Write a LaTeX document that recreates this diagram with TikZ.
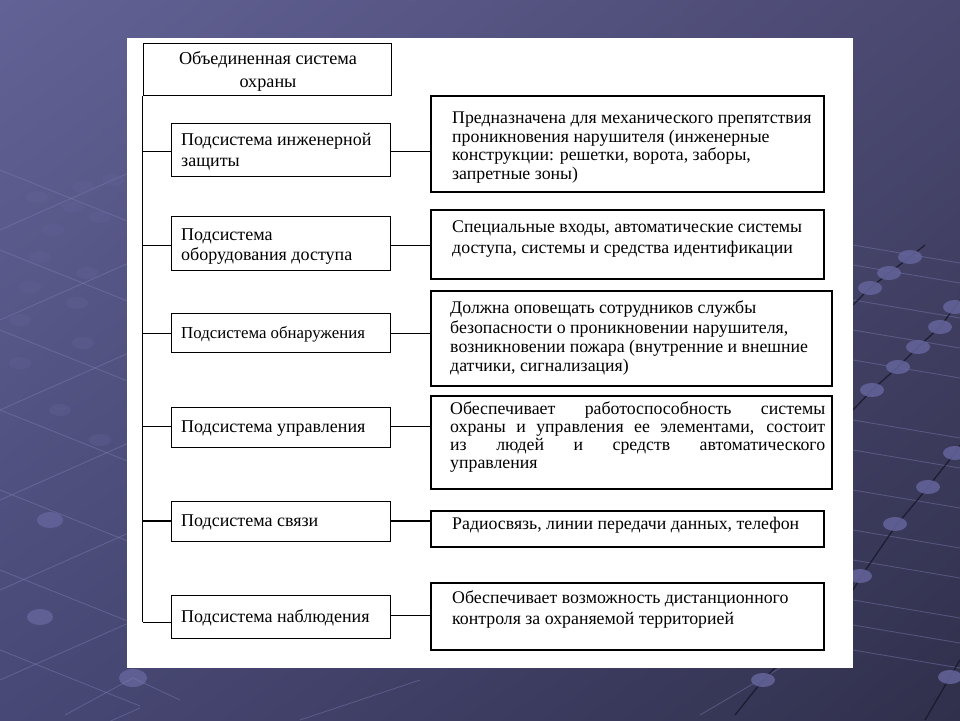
\documentclass[tikz,border=0pt]{standalone}
\usepackage{fontspec}
\setmainfont{Liberation Serif}
\usetikzlibrary{shadings}
\definecolor{bgUL}{RGB}{98,98,150}
\definecolor{bgUR}{RGB}{74,72,112}
\definecolor{bgLL}{RGB}{72,72,118}
\definecolor{bgLR}{RGB}{48,48,76}
\definecolor{netlight}{RGB}{130,130,185}
\definecolor{netdot}{RGB}{100,100,155}
\definecolor{netdark}{RGB}{22,22,40}
\definecolor{inktext}{RGB}{0,0,0}
\begin{document}
\begin{tikzpicture}[x=1pt,y=-1pt,
  lbox/.style={draw=black, line width=1.3pt, inner sep=0pt, anchor=north west, minimum width=219pt},
  rbox/.style={draw=black, line width=1.9pt, inner sep=0pt, anchor=north west},
  tbox/.style={draw=black, line width=1pt, inner sep=0pt, anchor=north west},
  ltxt/.style={inner sep=0pt, anchor=west, align=left, text=inktext,
    font=\fontsize{18pt}{20.5pt}\selectfont},
  rtxt/.style={inner sep=0pt, anchor=north west, align=left, text=inktext,
    font=\fontsize{17.8pt}{18.5pt}\selectfont},
  conn/.style={draw=black, line width=0.9pt},
  thick conn/.style={draw=black, line width=2pt},
  netline/.style={draw=netlight, line width=0.9pt, opacity=0.4},
  darkline/.style={draw=netdark, line width=1.3pt, opacity=0.8},
  netnode/.style={fill=netdot, opacity=0.85}
]
\useasboundingbox (0,0) rectangle (960,720);
% background
\shade[upper left=bgUL, upper right=bgUR, lower left=bgLL, lower right=bgLR] (0,0) rectangle (960,720);
% left faint network
\begin{scope}
\clip (0,160) rectangle (960,720);
\foreach \y in {230,320,410,500,590,680,770} {\draw[netline] (0,\y) -- (140,\y-62);}
\foreach \y in {170,250,330,410,490,570,650} {\draw[netline] (0,\y) -- (140,\y+56);}
\end{scope}
\foreach \p in {(83,187),(113,180),(37,197),(73,207),(100,217),(53,230),(40,257),(87,273),(30,287),(77,303),(20,320),(83,343),(20,363),(60,410),(100,440)}
  {\fill[netnode, opacity=0.3] \p ellipse (11 and 6);}
\fill[netnode] (50,520) ellipse (13 and 8);
\fill[netnode] (40,617) ellipse (13 and 8);
\fill[netnode] (133,678) ellipse (14 and 9);
\draw[netline] (65,715) -- (133,678) -- (180,700);
% bottom faint lines
\draw[netline] (300,720) -- (420,680);
\draw[netline] (700,715) -- (780,668);
% right network
\foreach \y in {245,265,300,330,360,420,450,490,530,560,600,625,650}
  {\draw[netline] (853,\y) -- (960,\y+18);}
\draw[darkline] (853,305) -- (870,288) -- (889,273) -- (910,257) -- (925,245);
\draw[darkline] (853,410) -- (872,390) -- (898,367) -- (918,347) -- (940,327) -- (960,300);
\draw[darkline] (853,590) -- (860,578) -- (895,527) -- (928,487) -- (955,453) -- (960,445);
\draw[darkline] (735,715) -- (763,680) -- (775,668);
\draw[darkline] (925,720) -- (950,677) -- (960,660);
\foreach \p in {(910,257),(889,273),(870,288),(955,307),(940,327),(918,347),(898,367),(872,390),(955,453),(928,487),(895,524),(860,576),(763,680),(950,677)}
  {\fill[netnode] \p ellipse (12 and 7);}
% white panel
\fill[white] (127,38) rectangle (853,668);

% top box
\node[tbox, minimum width=248pt, minimum height=52pt] (b0) at (142.5,43) {};
\node[inner sep=0pt, align=center, text=inktext, font=\fontsize{18.2pt}{23pt}\selectfont] (t0) at (268,71) {Объединенная система\\охраны};

% left boxes
\node[lbox, minimum height=53pt] (b1) at (171,123) {};
\node[lbox, minimum height=54pt] (b2) at (171,216) {};
\node[lbox, minimum height=39pt] (b3) at (171,313) {};
\node[lbox, minimum height=40pt] (b4) at (171,407) {};
\node[lbox, minimum height=40pt] (b5) at (171,501) {};
\node[lbox, minimum height=43pt] (b6) at (171,595) {};

\node[ltxt] (t1) at (181,151.5) {Подсистема инженерной\\защиты};
\node[ltxt] (t2) at (181,246.5) {Подсистема\\оборудования доступа};
\node[ltxt, font=\fontsize{16.8pt}{18pt}\selectfont] (t3) at (181,334) {Подсистема обнаружения};
\node[ltxt] (t4) at (181,429) {Подсистема управления};
\node[ltxt] (t5) at (181,522.5) {Подсистема связи};
\node[ltxt] (t6) at (181,618) {Подсистема наблюдения};

% right boxes
\node[rbox, minimum width=393pt, minimum height=96pt] (r1) at (430,95) {};
\node[rbox, minimum width=393pt, minimum height=69pt] (r2) at (430,209) {};
\node[rbox, minimum width=401pt, minimum height=95pt] (r3) at (430,290) {};
\node[rbox, minimum width=401pt, minimum height=93pt] (r4) at (430,395) {};
\node[rbox, minimum width=393pt, minimum height=36pt] (r5) at (430,510) {};
\node[rbox, minimum width=393pt, minimum height=67pt] (r6) at (430,582) {};

\node[rtxt] (u1) at (452,112) {Предназначена для механического препятствия\\проникновения нарушителя (инженерные\\конструкции: решетки, ворота, заборы,\\запретные зоны)};
\node[rtxt, font=\fontsize{17.8pt}{21pt}\selectfont] (u2) at (452,221) {Специальные входы, автоматические системы\\доступа, системы и средства идентификации};
\node[rtxt, font=\fontsize{17.8pt}{19.2pt}\selectfont] (u3) at (450,301) {Должна оповещать сотрудников службы\\безопасности о проникновении нарушителя,\\возникновении пожара (внутренние и внешние\\датчики, сигнализация)};
\node[rtxt, align=justify, text width=375pt, font=\fontsize{17.8pt}{18pt}\selectfont] (u4) at (450,402) {Обеспечивает работоспособность системы\linebreak охраны и управления ее элементами, состоит\linebreak из людей и средств автоматического\linebreak управления};
\node[rtxt] (u5) at (452,517) {Радиосвязь, линии передачи данных, телефон};
\node[rtxt, font=\fontsize{17.8pt}{21pt}\selectfont] (u6) at (452,591) {Обеспечивает возможность дистанционного\\контроля за охраняемой территорией};

% spine
\coordinate (s1) at (142.5,151);
\coordinate (s2) at (142.5,245);
\coordinate (s3) at (142.5,333);
\coordinate (s4) at (142.5,426);
\coordinate (s5) at (142.5,521);
\coordinate (s6) at (142.5,622);
\coordinate (e6) at (142.5,615);
\draw[conn] (b0.south west) -- (s6);
\draw[conn] (s1) -- (b1.west |- s1);
\draw[conn] (s2) -- (b2.west |- s2);
\draw[conn] (s3) -- (b3.west |- s3);
\draw[conn] (s4) -- (b4.west |- s4);
\draw[thick conn] (s5) -- (b5.west |- s5);
\draw[conn] (s6) -- (b6.west |- s6);
% right connectors
\draw[conn] (b1.east |- s1) -- (r1.west |- s1);
\draw[conn] (b2.east |- s2) -- (r2.west |- s2);
\draw[conn] (b3.east |- s3) -- (r3.west |- s3);
\draw[conn] (b4.east |- s4) -- (r4.west |- s4);
\draw[thick conn] (b5.east |- s5) -- (r5.west |- s5);
\draw[conn] (b6.east |- e6) -- (r6.west |- e6);
\end{tikzpicture}
\end{document}
